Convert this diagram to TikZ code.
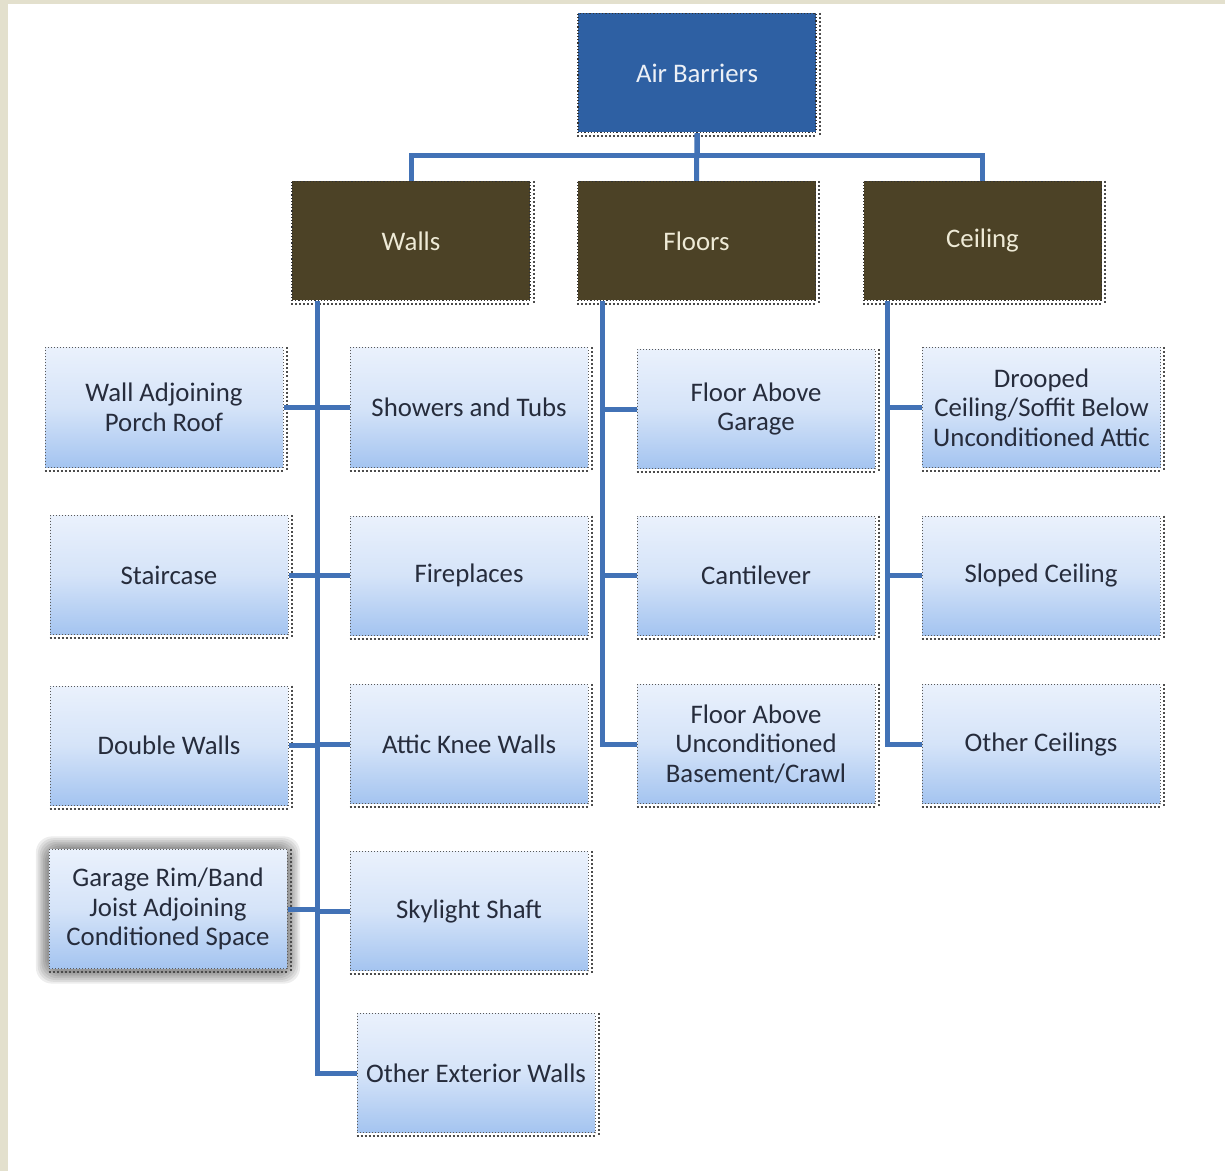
\documentclass[tikz,border=0pt]{standalone}
\usepackage{fontspec}
\setmainfont{Carlito}
\usetikzlibrary{backgrounds}
\definecolor{beige}{RGB}{227,224,205}
\definecolor{airblue}{RGB}{46,96,163}
\definecolor{brownbox}{RGB}{76,66,38}
\definecolor{connblue}{RGB}{66,114,182}
\definecolor{leaftop}{RGB}{234,241,252}
\definecolor{leafbot}{RGB}{164,196,240}
\definecolor{leaftext}{RGB}{38,44,60}
\definecolor{lighttext}{RGB}{236,240,246}
\definecolor{creamtext}{RGB}{238,234,214}
\newcommand\bx[5]{%
  \node[#4] (#1) at (#2,#3) {#5};
  \draw[edgedots] ([yshift=-1.5pt]#1.south west) -- ([yshift=-1.5pt]#1.south east);
  \draw[edgedots] ([xshift=1.5pt]#1.north east) -- ([xshift=1.5pt,yshift=-1.5pt]#1.south east);
}
\tikzset{
  basebox/.style={minimum width=119pt, minimum height=59.5pt, inner sep=2pt, align=center,
    font=\fontsize{13.4pt}{14.8pt}\selectfont},
  topbox/.style={basebox, fill=airblue, draw=black!80, densely dotted, line width=0.6pt, text=lighttext},
  catbox/.style={basebox, fill=brownbox, draw=black!80, densely dotted, line width=0.6pt, text=creamtext},
  leaf/.style={basebox, top color=leaftop, bottom color=leafbot, middle color=leaftop!70!leafbot,
    draw=black!65, densely dotted, line width=0.5pt, text=leaftext},
  edgedots/.style={draw=black!70, densely dotted, line width=1pt},
  conn/.style={draw=connblue, line width=2.5pt},
}
\begin{document}
\begin{tikzpicture}[x=0.5pt,y=-0.5pt]
\begin{pgfonlayer}{background}
  \fill[beige] (0,0) rectangle (1225,1171);
  \fill[white] (8,4) rectangle (1225,1171);
\end{pgfonlayer}
\useasboundingbox (0,0) rectangle (1225,1171);

% top and categories
\bx{air}{697}{73}{topbox}{Air Barriers}
\bx{walls}{411}{241}{catbox}{Walls}
\bx{floors}{696.5}{241}{catbox}{Floors}
\bx{ceiling}{982.5}{241}{catbox}{Ceiling}

% walls children, left column
\bx{porch}{164}{407.5}{leaf}{Wall Adjoining\\Porch Roof}
\bx{stair}{169}{575}{leaf}{Staircase}
\bx{double}{169}{745.5}{leaf}{Double Walls}
\bx{garage}{168}{909}{leaf}{Garage Rim/Band\\Joist Adjoining\\Conditioned Space}
% walls children, right column
\bx{showers}{469}{407.5}{leaf}{Showers and Tubs}
\bx{fire}{469}{575.5}{leaf}{Fireplaces}
\bx{attic}{469}{744}{leaf}{Attic Knee Walls}
\bx{sky}{469}{911}{leaf}{Skylight Shaft}
\bx{otherext}{476}{1073}{leaf}{Other Exterior Walls}
% floors children
\bx{fgarage}{756}{409}{leaf}{Floor Above\\Garage}
\bx{cant}{756}{575.5}{leaf}{Cantilever}
\bx{basement}{756}{744}{leaf}{Floor Above\\Unconditioned\\Basement/Crawl}
% ceiling children
\bx{drooped}{1041.5}{407.5}{leaf}{Drooped\\Ceiling/Soffit Below\\Unconditioned Attic}
\bx{sloped}{1041}{575.5}{leaf}{Sloped Ceiling}
\bx{otherc}{1041}{744}{leaf}{Other Ceilings}

% glow around selected box
\begin{pgfonlayer}{background}
  \foreach \i in {1,...,7}
    \fill[black, opacity=0.07, rounded corners=8pt]
      ([shift={(-\i*0.9pt,\i*0.9pt)}]garage.north west) rectangle ([shift={(\i*0.9pt,-\i*0.9pt-1pt)}]garage.south east);
\end{pgfonlayer}

% spine coordinates
\coordinate (ws) at ([xshift=13pt]walls.south west);
\coordinate (fs) at ([xshift=13pt]floors.south west);
\coordinate (cs) at ([xshift=12.5pt]ceiling.south west);

% connectors top
\draw[conn] (air.south) -- ++(0,22) -| (walls.north);
\draw[conn] (air.south) -- ++(0,22) -| (ceiling.north);
\draw[conn] (air.south) -- (floors.north);

% walls spine
\draw[conn] (ws) |- (otherext.west);
\draw[conn] (ws) |- (showers.west);
\draw[conn] (ws) |- (fire.west);
\draw[conn] (ws) |- (attic.west);
\draw[conn] (ws) |- (sky.west);
\draw[conn] (ws) |- (porch.east);
\draw[conn] (ws) |- (stair.east);
\draw[conn] (ws) |- (double.east);
\draw[conn] (ws) |- (garage.east);
% floors spine
\draw[conn] (fs) |- (fgarage.west);
\draw[conn] (fs) |- (cant.west);
\draw[conn] (fs) |- (basement.west);
% ceiling spine
\draw[conn] (cs) |- (drooped.west);
\draw[conn] (cs) |- (sloped.west);
\draw[conn] (cs) |- (otherc.west);
\end{tikzpicture}
\end{document}
